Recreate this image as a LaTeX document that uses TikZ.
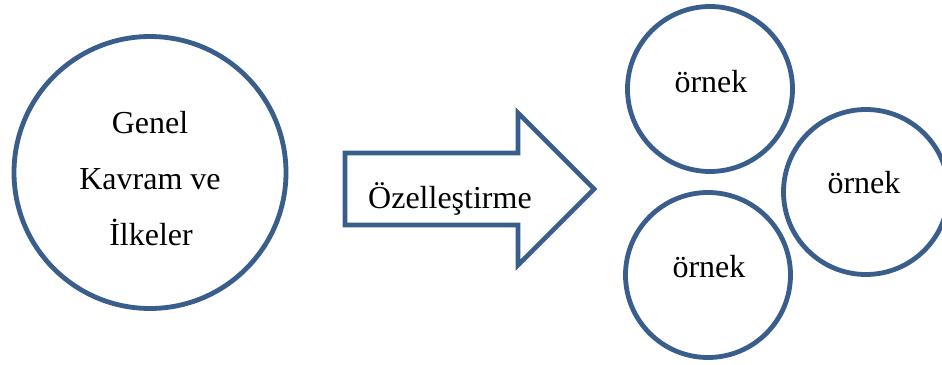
\documentclass[tikz,border=0pt]{standalone}
\usepackage{fontspec}
\setmainfont{Liberation Serif}
\definecolor{ringblue}{HTML}{3A5E8C}
\begin{document}
\begin{tikzpicture}[x=1pt,y=-1pt,
  ring/.style={circle,draw=ringblue,line width=4.8pt,fill=white,inner sep=0pt},
  lbl/.style={font=\fontsize{32}{38}\selectfont,inner sep=0pt,anchor=base},
  bigarrow/.style={draw=ringblue,line width=4.6pt,line join=miter,fill=white}]
  \useasboundingbox (0,0) rectangle (942,364);

  % general concept circle
  \node[ring,minimum size=272pt] (genel) at (150,172.5) {};
  \node[lbl] (t1) at (150,133) {Genel};
  \node[lbl] (t2) at (150,189) {Kavram ve};
  \node[lbl] (t3) at (151,245) {İlkeler};

  % block arrow
  \coordinate (a1) at (345,153);
  \coordinate (a2) at (518,153);
  \coordinate (a3) at (518,113);
  \coordinate (tip) at (594,189);
  \coordinate (a5) at (518,265);
  \coordinate (a6) at (518,225);
  \coordinate (a7) at (345,225);
  \draw[bigarrow] (a1) -- (a2) -- (a3) -- (tip) -- (a5) -- (a6) -- (a7) -- cycle;
  \node[lbl,anchor=base west] (ozel) at (368,208) {Özelleştirme};

  % example circles
  \node[ring,minimum size=165pt] (ex1) at (710,89) {};
  \node[ring,minimum size=165pt] (ex2) at (866,192) {};
  \node[ring,minimum size=165pt] (ex3) at (708,275) {};
  \node[lbl] (e1) at (711,92) {örnek};
  \node[lbl] (e2) at (864,193) {örnek};
  \node[lbl] (e3) at (709,277) {örnek};
\end{tikzpicture}
\end{document}
